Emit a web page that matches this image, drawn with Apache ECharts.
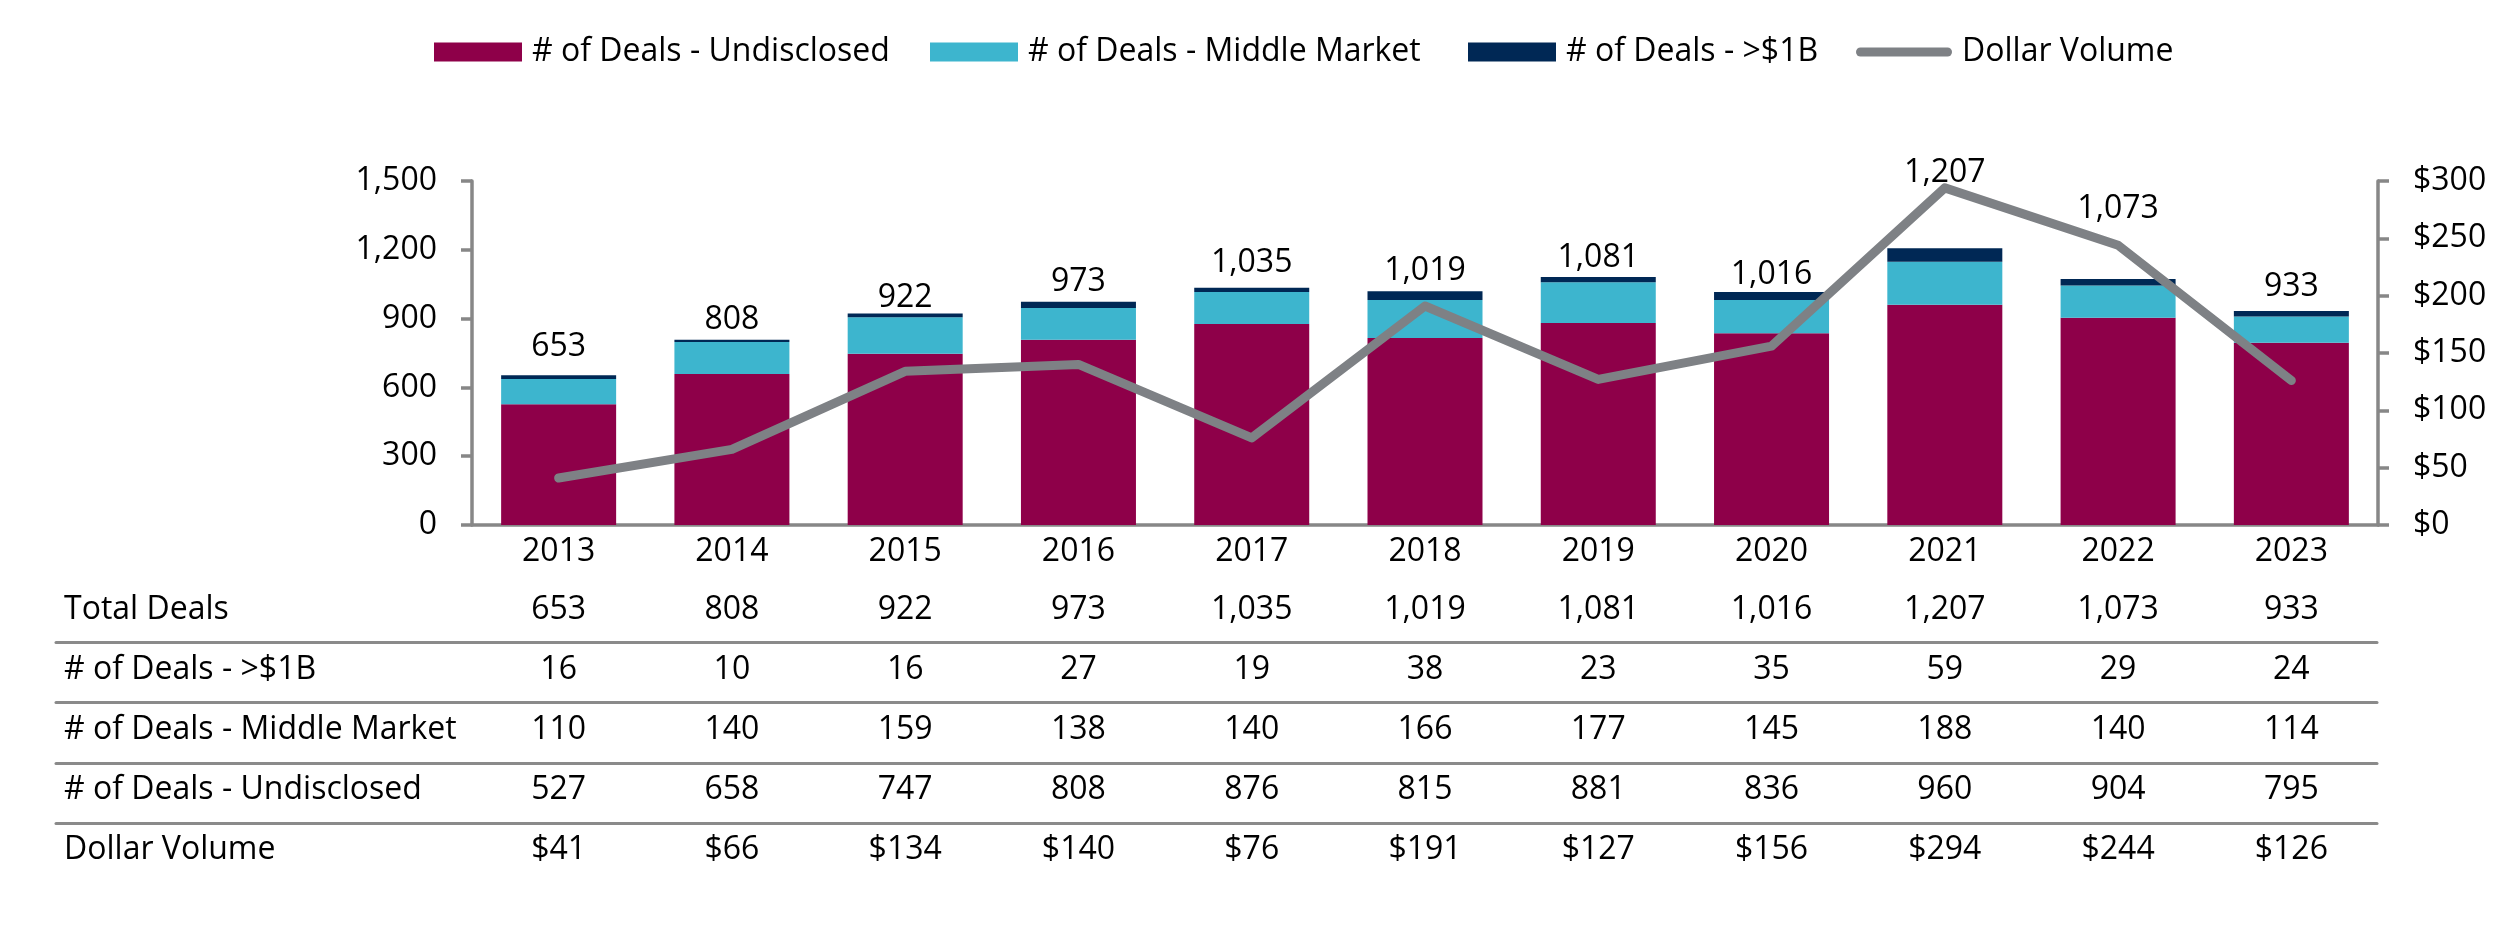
<!DOCTYPE html>
<html><head><meta charset="utf-8">
<script src="https://cdn.jsdelivr.net/npm/echarts@6/dist/echarts.min.js"></script>
<style>html,body{margin:0;padding:0;background:#fff}#c{width:2493px;height:937px}</style>
</head><body><div id="c"></div>
<script>
const years = ['2013','2014','2015','2016','2017','2018','2019','2020','2021','2022','2023'];
const dealsUndisclosed = [527,658,747,808,876,815,881,836,960,904,795];
const dealsMiddleMarket = [110,140,159,138,140,166,177,145,188,140,114];
const dealsOver1B = [16,10,16,27,19,38,23,35,59,29,24];
const totalDeals = [653,808,922,973,1035,1019,1081,1016,1207,1073,933];
const dollarVolume = [41,66,134,140,76,191,127,156,294,244,126];
const seriesNames = ['# of Deals - Undisclosed','# of Deals - Middle Market','# of Deals - >$1B','Dollar Volume'];
const rowNames = ['Total Deals','# of Deals - >$1B','# of Deals - Middle Market','# of Deals - Undisclosed','Dollar Volume'];

// label lift above each total (style only)
const labelGap = [12,4,0,4,9,4,3,1,59,54,8];
// legend item left edges (layout only)
const legendLefts = [434, 930, 1468, 1856];

const FONT = "'Open Sans','Noto Sans',sans-serif";
const FS = 32;
const AX = '#878787';
const C_UND = '#8E0049', C_MID = '#3DB5CE', C_BIG = '#002855', C_LINE = '#7E8185';

const comma = n => String(n).replace(/\B(?=(\d{3})+(?!\d))/g, ',');
const rows = [
  {vals: totalDeals, f: comma},
  {vals: dealsOver1B, f: String},
  {vals: dealsMiddleMarket, f: String},
  {vals: dealsUndisclosed, f: String},
  {vals: dollarVolume, f: v => '$' + v}
];

const txt = {fontFamily: FONT, fontSize: FS, color: '#000'};

const xAxes = [{
  type: 'category', gridIndex: 0, data: years, position: 'bottom',
  axisLine: {show: true, onZero: false, lineStyle: {color: AX, width: 3.5}},
  axisTick: {show: false},
  axisLabel: Object.assign({interval: 0, margin: 11}, txt)
}];
rows.forEach((r, i) => {
  xAxes.push({
    type: 'category', gridIndex: 0, data: years, position: 'bottom',
    offset: 85 + 60 * i,
    axisLine: {show: false}, axisTick: {show: false}, splitLine: {show: false},
    axisLabel: Object.assign({interval: 0, margin: 0, verticalAlign: 'middle',
      formatter: (v, idx) => r.f(r.vals[idx])}, txt)
  });
});
for (let k = 0; k < 4; k++) {
  xAxes.push({
    type: 'value', gridIndex: 1, min: 0, max: 1, position: 'bottom', offset: Math.round(k * 60.33),
    axisLine: {show: true, onZero: false, lineStyle: {color: '#8A8A8A', width: 3}},
    axisTick: {show: false}, axisLabel: {show: false}, splitLine: {show: false}
  });
}
// x axis for row-name grid (hidden)
xAxes.push({type: 'value', gridIndex: 2, min: 0, max: 1, show: false});

const legendIcons = ['rect', 'rect', 'rect',
  'path://M4.5,0 L91.5,0 A4.5,4.5 0 0 1 91.5,9 L4.5,9 A4.5,4.5 0 0 1 4.5,0 Z'];
const legends = seriesNames.map((n, i) => ({
  left: legendLefts[i], top: 36, padding: 0, itemWidth: i === 3 ? 96 : 88, itemHeight: 19,
  textStyle: Object.assign({padding: [0, 0, 0, 5]}, txt),
  data: [i === 3 ? {name: n, icon: legendIcons[i], itemStyle: {color: C_LINE}} : {name: n, icon: legendIcons[i]}]
}));

const option = {
  animation: false,
  backgroundColor: '#fff',
  textStyle: {fontFamily: FONT},
  legend: legends,
  grid: [
    {left: 472, right: 115, top: 181, height: 344},
    {left: 56, right: 116, top: 600, height: 42},
    {left: 470, right: 116, top: 580, height: 300}
  ],
  xAxis: xAxes,
  yAxis: [
    {type: 'value', gridIndex: 0, min: 0, max: 1500, interval: 300, position: 'left',
      axisLine: {show: true, lineStyle: {color: AX, width: 3.5}},
      axisTick: {show: true, length: 11, lineStyle: {color: AX, width: 3.5}},
      splitLine: {show: false},
      axisLabel: Object.assign({margin: 35, formatter: v => comma(v)}, txt)},
    {type: 'value', gridIndex: 0, min: 0, max: 300, interval: 50, position: 'right',
      axisLine: {show: true, lineStyle: {color: AX, width: 3.5}},
      axisTick: {show: true, length: 11, lineStyle: {color: AX, width: 3.5}},
      splitLine: {show: false},
      axisLabel: Object.assign({margin: 35, formatter: v => '$' + v}, txt)},
    {type: 'value', gridIndex: 1, min: 0, max: 1, show: false},
    {type: 'category', gridIndex: 2, data: rowNames, inverse: true, position: 'left',
      axisLine: {show: false}, axisTick: {show: false}, splitLine: {show: false},
      axisLabel: Object.assign({interval: 0, margin: 406, align: 'left'}, txt)}
  ],
  series: [
    {name: seriesNames[0], type: 'bar', stack: 'deals', xAxisIndex: 0, yAxisIndex: 0, barWidth: 115,
      itemStyle: {color: C_UND}, data: dealsUndisclosed},
    {name: seriesNames[1], type: 'bar', stack: 'deals', xAxisIndex: 0, yAxisIndex: 0, barWidth: 115,
      itemStyle: {color: C_MID}, data: dealsMiddleMarket},
    {name: seriesNames[2], type: 'bar', stack: 'deals', xAxisIndex: 0, yAxisIndex: 0, barWidth: 115,
      itemStyle: {color: C_BIG},
      label: Object.assign({show: true, position: 'top', formatter: p => comma(totalDeals[p.dataIndex])}, txt),
      data: dealsOver1B.map((v, i) => ({value: v, label: {distance: labelGap[i]}}))},
    {name: seriesNames[3], type: 'line', xAxisIndex: 0, yAxisIndex: 1, symbol: 'none', z: 5,
      itemStyle: {color: C_LINE},
      lineStyle: {color: C_LINE, width: 9, cap: 'round', join: 'round'},
      data: dollarVolume}
  ]
};
const chart = echarts.init(document.getElementById('c'), null, {renderer: 'canvas'});
chart.setOption(option);
</script>
</body></html>
